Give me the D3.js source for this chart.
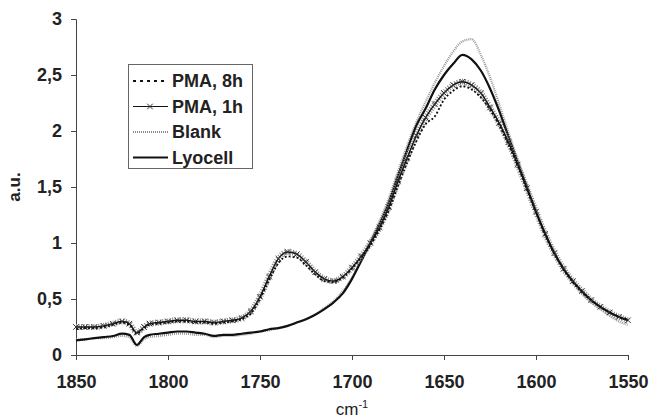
<!DOCTYPE html>
<html lang="en">
<head>
  <meta charset="utf-8" />
  <title>FTIR carbonyl region</title>
  <style>
    body { margin: 0; background: #fff; }
    svg { display: block; font-family: "Liberation Sans", Arial, sans-serif; }
    .tick text { font-size: 18px; font-weight: bold; fill: #222; }
  </style>
</head>
<body>
  <svg width="650" height="419"></svg>

  <script src="https://d3js.org/d3.v7.min.js"></script>
  <script>
    // wavenumbers (cm-1)
    const wn = [1850,1845,1840,1835,1830,1825,1821,1817,1813,1810,1805,1800,1795,1790,1785,1780,1775,1770,1765,1760,
      1755,1750,1745,1740,1735,1730,1725,1720,1715,1710,1705,1700,1695,1690,1685,1680,1675,1670,1665,1660,
      1655,1650,1645,1640,1635,1630,1625,1620,1615,1610,1605,1600,1595,1590,1585,1580,1575,1570,1565,1560,1555,1550];

    const lyocell = [0.13,0.14,0.15,0.16,0.17,0.19,0.18,0.09,0.16,0.18,0.19,0.20,0.21,0.21,0.20,0.19,0.17,0.18,0.18,0.19,
      0.20,0.21,0.23,0.24,0.26,0.29,0.32,0.36,0.41,0.47,0.55,0.68,0.84,1.00,1.17,1.36,1.60,1.83,2.05,2.20,
      2.37,2.50,2.60,2.68,2.64,2.54,2.38,2.18,1.95,1.72,1.50,1.28,1.08,0.91,0.77,0.66,0.57,0.49,0.43,0.38,0.34,0.31];

    const blank = [0.14,0.14,0.15,0.15,0.16,0.17,0.16,0.08,0.14,0.16,0.17,0.18,0.19,0.19,0.18,0.18,0.16,0.17,0.17,0.18,
      0.19,0.21,0.22,0.24,0.26,0.29,0.32,0.36,0.42,0.48,0.57,0.69,0.85,1.02,1.20,1.40,1.64,1.87,2.08,2.26,
      2.43,2.58,2.71,2.80,2.82,2.68,2.48,2.24,1.99,1.75,1.52,1.30,1.09,0.91,0.77,0.65,0.55,0.47,0.41,0.35,0.30,0.27];

    const pma1h = [0.25,0.25,0.25,0.26,0.28,0.30,0.28,0.20,0.25,0.28,0.29,0.30,0.31,0.31,0.30,0.30,0.29,0.30,0.31,0.33,
      0.39,0.52,0.70,0.86,0.92,0.90,0.83,0.74,0.68,0.66,0.70,0.78,0.88,1.00,1.14,1.32,1.55,1.76,1.96,2.12,
      2.24,2.34,2.41,2.44,2.41,2.34,2.21,2.07,1.90,1.70,1.49,1.28,1.08,0.91,0.77,0.66,0.57,0.49,0.43,0.38,0.34,0.31];

    const pma8h = [0.23,0.24,0.24,0.25,0.27,0.29,0.27,0.19,0.24,0.27,0.28,0.29,0.30,0.30,0.29,0.29,0.28,0.29,0.30,0.32,
      0.37,0.50,0.67,0.82,0.88,0.87,0.80,0.72,0.66,0.65,0.69,0.77,0.87,0.98,1.12,1.29,1.51,1.72,1.91,2.06,
      2.13,2.28,2.36,2.40,2.37,2.30,2.19,2.05,1.88,1.69,1.48,1.27,1.07,0.90,0.76,0.65,0.56,0.49,0.43,0.38,0.34,0.32];

    const xTicks = [1850,1800,1750,1700,1650,1600,1550];
    const yTicks = [0,0.5,1,1.5,2,2.5,3];
    const legendNames = ["PMA, 8h", "PMA, 1h", "Blank", "Lyocell"];

    const margin = {top: 19, right: 22, bottom: 64, left: 76};
    const width = 650, height = 419;

    const x = d3.scaleLinear().domain([1850, 1550]).range([margin.left, width - margin.right]);
    const y = d3.scaleLinear().domain([0, 3]).range([height - margin.bottom, margin.top]);

    const svg = d3.select("svg");
    const fmt = d => String(d).replace(".", ",");

    // axes
    svg.append("g")
      .attr("transform", `translate(0,${y(0)})`)
      .call(d3.axisBottom(x).tickValues(xTicks).tickSize(5).tickPadding(15).tickFormat(d3.format("d")))
      .call(g => g.select(".domain").attr("stroke", "#444"))
      .call(g => g.selectAll(".tick line").attr("stroke", "#444"));

    svg.append("g")
      .attr("transform", `translate(${margin.left},0)`)
      .call(d3.axisLeft(y).tickValues(yTicks).tickSize(5).tickPadding(9).tickFormat(fmt))
      .call(g => g.select(".domain").attr("stroke", "#444"))
      .call(g => g.selectAll(".tick line").attr("stroke", "#444"));

    svg.append("text")
      .attr("transform", `translate(20,${(y(0) + y(3)) / 2}) rotate(-90)`)
      .attr("text-anchor", "middle")
      .style("font-size", "17px").style("font-weight", "bold").attr("fill", "#222")
      .text("a.u.");

    const xl = svg.append("text")
      .attr("x", x(1700)).attr("y", 415)
      .attr("text-anchor", "middle")
      .style("font-size", "17px").attr("fill", "#222");
    xl.append("tspan").text("cm");
    xl.append("tspan").attr("dy", -7).style("font-size", "11px").text("-1");

    // lines
    const line = vals => d3.line()
      .x((d, i) => x(wn[i]))
      .y(d => y(d))
      .curve(d3.curveMonotoneX)(vals);

    const plot = svg.append("g").attr("fill", "none");

    // Blank: grey fuzzy dotted
    plot.append("path").attr("d", line(blank))
      .attr("stroke", "#999").attr("stroke-width", 2.2).attr("stroke-dasharray", "1,1");

    // Lyocell: solid black
    plot.append("path").attr("d", line(lyocell))
      .attr("stroke", "#111").attr("stroke-width", 2.2);

    // PMA 1h: thin line with crosses, grey fuzz halo
    plot.append("path").attr("d", line(pma1h))
      .attr("stroke", "#888").attr("stroke-width", 6).attr("stroke-dasharray", "1,1.5");
    plot.append("path").attr("d", line(pma1h))
      .attr("stroke", "#111").attr("stroke-width", 1.4);
    const cross = d3.symbol().type(d3.symbolX).size(22);
    plot.selectAll(".x1h").data(pma1h).join("path")
      .attr("transform", (d, i) => `translate(${x(wn[i])},${y(d)})`)
      .attr("d", cross).attr("stroke", "#333").attr("stroke-width", 1);

    // PMA 8h: dotted black
    plot.append("path").attr("d", line(pma8h))
      .attr("stroke", "#111").attr("stroke-width", 1.8).attr("stroke-dasharray", "2,2");

    // legend
    const lg = svg.append("g");
    lg.append("rect").attr("x", 128.5).attr("y", 64.5).attr("width", 124).attr("height", 104)
      .attr("fill", "#fff").attr("stroke", "#666").attr("stroke-width", 1);
    const rows = lg.selectAll(".row").data(legendNames).join("g")
      .attr("transform", (d, i) => `translate(0,${81 + i * 25.5})`);
    rows.append("text")
      .attr("x", 172).attr("dy", "0.36em")
      .style("font-size", "18px").style("font-weight", "bold").attr("fill", "#222")
      .text(d => d);
    rows.each(function(d, i) {
      const g = d3.select(this);
      const seg = g.append("line").attr("x1", 133).attr("x2", 168).attr("y1", 0).attr("y2", 0);
      if (i === 0) seg.attr("stroke", "#111").attr("stroke-width", 1.8).attr("stroke-dasharray", "3,4");
      if (i === 1) {
        seg.attr("stroke", "#111").attr("stroke-width", 1.2);
        g.append("path").attr("transform", "translate(150,0)").attr("d", cross)
          .attr("stroke", "#333").attr("fill", "none");
      }
      if (i === 2) seg.attr("stroke", "#888").attr("stroke-width", 2.2).attr("stroke-dasharray", "1,1");
      if (i === 3) seg.attr("stroke", "#111").attr("stroke-width", 2.2);
    });
  </script>
</body>
</html>
